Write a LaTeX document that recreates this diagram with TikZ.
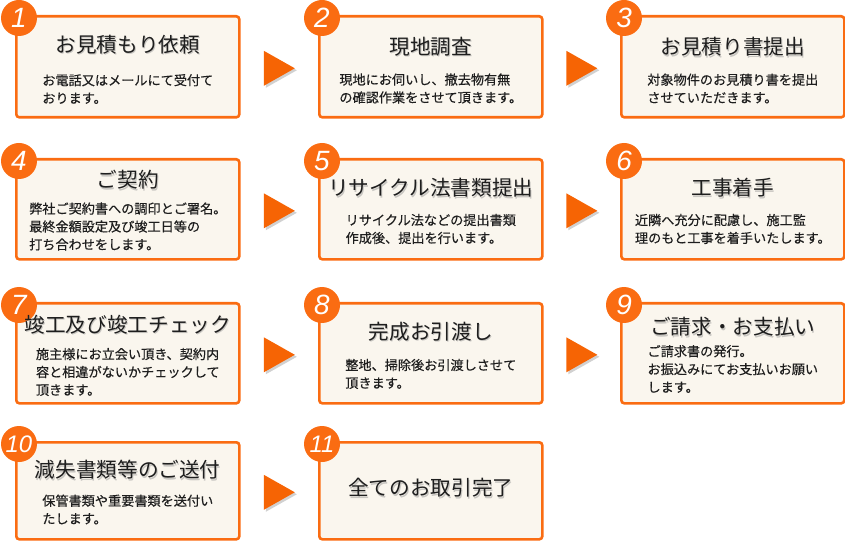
\documentclass[tikz,border=0pt]{standalone}
\usepackage{fontspec}
\newfontfamily\jp{Noto Sans CJK JP}
\newfontfamily\jpm{Noto Sans CJK JP}[FakeBold=0.35]
\newfontfamily\numfont{Liberation Sans}
\usetikzlibrary{calc}
\definecolor{boxorange}{RGB}{250,108,18}
\definecolor{cream}{RGB}{250,246,238}
\definecolor{triorange}{RGB}{246,100,4}
\definecolor{txt}{RGB}{30,30,30}
\tikzset{
  box/.style={draw=boxorange, line width=2.6bp, fill=cream, rounded corners=3bp,
    minimum width=223bp, anchor=north west, inner sep=0pt},
  badge/.style={circle, fill=boxorange, minimum size=36bp, inner sep=0pt,
    text=white, font=\numfont\itshape\fontsize{28}{28}\selectfont},
  badgesm/.style={badge, font=\numfont\itshape\fontsize{24}{24}\selectfont},
  ttl/.style={text=txt, inner sep=0pt, font=\jp\fontsize{20.7}{24}\selectfont},
  ttlsh/.style={text=black!45, opacity=0.45, inner sep=0pt, font=\jp\fontsize{20.7}{24}\selectfont},
  bdy/.style={text=txt, inner sep=0pt, align=left, font=\jpm\fontsize{13.2}{18}\selectfont},
  tri/.style={fill=triorange},
  trish/.style={fill=black, opacity=0.18},
}
\newcommand{\mytitle}[3]{%
  \node[ttlsh] at ([xshift=1bp,yshift=-#2bp-1.2bp]#1.north) {#3};
  \node[ttl] (#1t) at ([yshift=-#2bp]#1.north) {#3};}
\newcommand{\mytri}[3]{%
  \coordinate (#3) at ($(#1.east)!0.5!(#2.west)+(0,1.5)$);
  \fill[trish] ([xshift=-13.5bp,yshift=-19.5bp]#3) -- ([xshift=17.5bp,yshift=-2bp]#3) -- ([xshift=-13.5bp,yshift=15.5bp]#3) -- cycle;
  \fill[tri] ([xshift=-15.5bp,yshift=-17.5bp]#3) -- ([xshift=15.5bp]#3) -- ([xshift=-15.5bp,yshift=17.5bp]#3) -- cycle;}
\begin{document}
\begin{tikzpicture}[x=1bp,y=-1bp]
\useasboundingbox (0,0) rectangle (845,541);
% boxes
\node[box, minimum height=101bp] (b1) at (15,15) {};
\node[box, minimum height=101bp] (b2) at (318,15) {};
\node[box, minimum height=101bp] (b3) at (620,15) {};
\node[box, minimum height=100bp] (b4) at (15,158) {};
\node[box, minimum height=100bp] (b5) at (318,158) {};
\node[box, minimum height=100bp] (b6) at (620,158) {};
\node[box, minimum height=100bp] (b7) at (15,302) {};
\node[box, minimum height=100bp] (b8) at (318,302) {};
\node[box, minimum height=100bp] (b9) at (620,302) {};
\node[box, minimum height=97bp] (b10) at (15,441) {};
\node[box, minimum height=97bp] (b11) at (318,441) {};
% badges
\foreach \i in {1,...,9}{
  \node[badge] (n\i) at ([xshift=4bp,yshift=-3bp]b\i.north west) {\i};
}
\node[badgesm] (n10) at ([xshift=4bp,yshift=-3bp]b10.north west) {10};
\node[badgesm] (n11) at ([xshift=4bp,yshift=-3bp]b11.north west) {11};
% triangles
\mytri{b1}{b2}{a1}
\mytri{b2}{b3}{a2}
\mytri{b4}{b5}{a3}
\mytri{b5}{b6}{a4}
\mytri{b7}{b8}{a5}
\mytri{b8}{b9}{a6}
\mytri{b10}{b11}{a7}
% titles
\mytitle{b1}{30}{お見積もり依頼}
\mytitle{b2}{32}{現地調査}
\mytitle{b3}{32}{お見積り書提出}
\mytitle{b4}{22}{ご契約}
\mytitle{b5}{30}{リサイクル法書類提出}
\mytitle{b6}{30}{工事着手}
\mytitle{b7}{23}{竣工及び竣工チェック}
\mytitle{b8}{30}{完成お引渡し}
\mytitle{b9}{25}{ご請求・お支払い}
\mytitle{b10}{29}{減失書類等のご送付}
\mytitle{b11}{47}{全てのお取引完了}
% bodies
\node[bdy] (d1) at ([yshift=-74bp]b1.north) {お電話又はメールにて受付て\\おります。};
\node[bdy] (d2) at ([yshift=-73.5bp]b2.north) {現地にお伺いし、撤去物有無\\の確認作業をさせて頂きます。};
\node[bdy] (d3) at ([yshift=-73.5bp]b3.north) {対象物件のお見積り書を提出\\させていただきます。};
\node[bdy] (d4) at ([yshift=-68.5bp]b4.north) {弊社ご契約書への調印とご署名。\\最終金額設定及び竣工日等の\\打ち合わせをします。};
\node[bdy] (d5) at ([yshift=-71bp]b5.north) {リサイクル法などの提出書類\\作成後、提出を行います。};
\node[bdy] (d6) at ([yshift=-71bp]b6.north) {近隣へ充分に配慮し、施工監\\理のもと工事を着手いたします。};
\node[bdy] (d7) at ([yshift=-70bp]b7.north) {施主様にお立会い頂き、契約内\\容と相違がないかチェックして\\頂きます。};
\node[bdy] (d8) at ([yshift=-72bp]b8.north) {整地、掃除後お引渡しさせて\\頂きます。};
\node[bdy] (d9) at ([yshift=-67bp]b9.north) {ご請求書の発行。\\お振込みにてお支払いお願い\\します。};
\node[bdy] (d10) at ([yshift=-68.5bp]b10.north) {保管書類や重要書類を送付い\\たします。};
\end{tikzpicture}
\end{document}
